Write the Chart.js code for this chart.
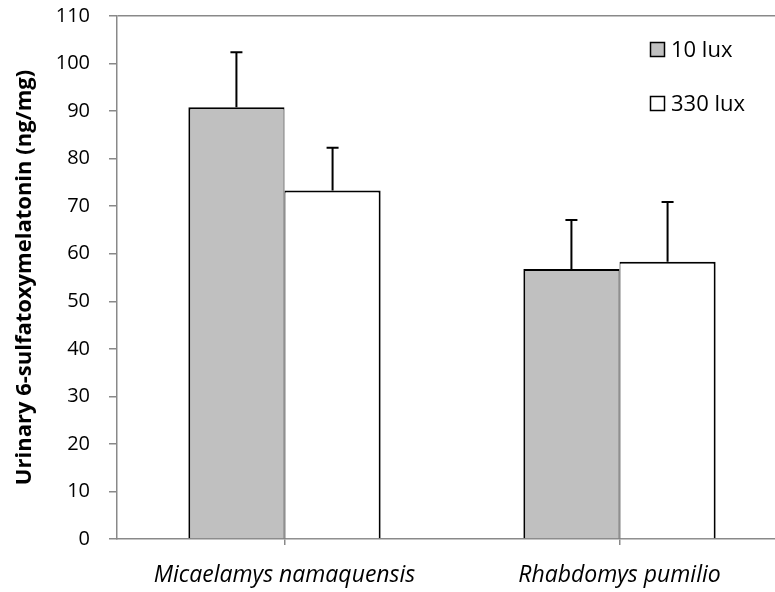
<!DOCTYPE html>
<html><head><meta charset="utf-8">
<script src="https://cdn.jsdelivr.net/npm/chart.js@4/dist/chart.umd.min.js"></script>
<style>html,body{margin:0;padding:0;background:#fff;overflow:hidden;width:775px;height:592px}canvas{display:block}</style>
</head><body><canvas id="c" width="800" height="592"></canvas>
<script>
const categories = ['Micaelamys namaquensis', 'Rhabdomys pumilio'];
const seriesNames = ['10 lux', '330 lux'];
const lux10 = [90.8, 56.8];
const lux330 = [73.3, 58.3];
const lux10Err = [11.6, 10.3];
const lux330Err = [9.0, 12.6];
const yTicks = [0, 10, 20, 30, 40, 50, 60, 70, 80, 90, 100, 110];
const yTitle = 'Urinary 6-sulfatoxymelatonin (ng/mg)';

const AXIS = '#898989';
const FONT = '"Open Sans"';

const errorBars = {
  id: 'errorBars',
  afterDatasetsDraw(chart) {
    const ctx = chart.ctx, ys = chart.scales.y;
    chart.data.datasets.forEach((ds, di) => {
      const meta = chart.getDatasetMeta(di);
      meta.data.forEach((el, i) => {
        const top = ys.getPixelForValue(ds.data[i] + ds.errors[i]);
        ctx.save();
        ctx.strokeStyle = '#000';
        ctx.lineWidth = 2;
        ctx.beginPath();
        ctx.moveTo(el.x, el.y);
        ctx.lineTo(el.x, top);
        ctx.moveTo(el.x - 6, top);
        ctx.lineTo(el.x + 6, top);
        ctx.stroke();
        ctx.restore();
      });
    });
  }
};

const customLegend = {
  id: 'customLegend',
  afterDraw(chart) {
    const ctx = chart.ctx;
    const rows = [49.5, 103.5];
    chart.data.datasets.forEach((ds, i) => {
      const cy = rows[i];
      ctx.save();
      ctx.fillStyle = ds.backgroundColor;
      ctx.fillRect(650.5, cy - 7, 14, 14);
      ctx.strokeStyle = '#000';
      ctx.lineWidth = 1.5;
      ctx.strokeRect(650.5, cy - 7, 14, 14);
      ctx.fillStyle = '#000';
      ctx.font = '22px ' + FONT;
      ctx.textBaseline = 'middle';
      ctx.textAlign = 'left';
      ctx.fillText(ds.label, 671, cy + 1);
      ctx.restore();
    });
  }
};

new Chart(document.getElementById('c'), {
  type: 'bar',
  data: {
    labels: categories,
    datasets: [
      { label: seriesNames[0], data: lux10, errors: lux10Err, backgroundColor: '#c0c0c0', borderColor: '#000',
        borderWidth: { top: 2, left: 2, right: 1, bottom: 0 }, borderSkipped: false },
      { label: seriesNames[1], data: lux330, errors: lux330Err, backgroundColor: '#ffffff', borderColor: '#000',
        borderWidth: { top: 2, left: 1, right: 2, bottom: 0 }, borderSkipped: false }
    ]
  },
  options: {
    responsive: false,
    animation: false,
    devicePixelRatio: 1,
    layout: { padding: { left: 0, right: 13, top: 16, bottom: 0 } },
    datasets: { bar: { categoryPercentage: 0.574, barPercentage: 1 } },
    plugins: { legend: { display: false }, tooltip: { enabled: false } },
    scales: {
      x: {
        grid: { display: true, drawOnChartArea: false, offset: false, tickLength: 6, color: AXIS, lineWidth: 1.5 },
        border: { display: true, color: AXIS, width: 1.5 },
        ticks: { color: '#000', font: { family: FONT, size: 23, style: 'italic' }, padding: 17, maxRotation: 0 },
        afterFit(s) { s.height = 53; s.paddingLeft = 0; s.paddingRight = 0; }
      },
      y: {
        min: 0, max: 110,
        afterBuildTicks(s) { s.ticks = yTicks.map(v => ({ value: v })); },
        grid: { color: c => (c.tick && c.tick.value === 110) ? AXIS : 'rgba(0,0,0,0)', tickColor: AXIS, tickLength: 8, lineWidth: 1.5 },
        border: { display: true, color: AXIS, width: 1.5 },
        ticks: { color: '#000', font: { family: FONT, size: 20 }, padding: 19 },
        title: { display: true, text: yTitle, color: '#000', font: { family: FONT, size: 22, weight: 'bold' }, padding: { top: 12, bottom: 0 } },
        afterFit(s) { s.width = 117; s.paddingTop = 0; s.paddingBottom = 0; }
      }
    }
  },
  plugins: [errorBars, customLegend]
});
</script>
</body></html>
